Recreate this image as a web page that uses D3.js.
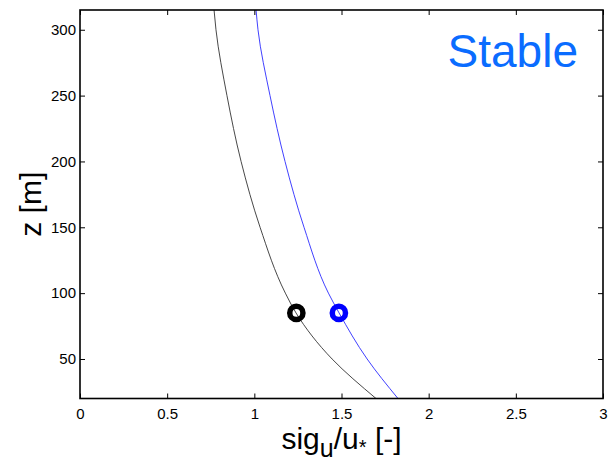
<!DOCTYPE html>
<html><head><meta charset="utf-8">
<script src="https://cdn.jsdelivr.net/npm/d3@7"></script>
<style>body{margin:0;background:#fff;} svg{display:block;font-family:"Liberation Sans",Arial,sans-serif;}</style>
</head><body>
<script>
const zLevels   = [20, 50, 85, 100, 150, 200, 250, 300, 315];
const blackVals = [1.698, 1.446, 1.239, 1.178, 1.033, 0.924, 0.843, 0.780, 0.769];
const blueVals  = [1.824, 1.647, 1.486, 1.425, 1.285, 1.176, 1.090, 1.021, 1.010];
const markerZ = [85, 85];
const markerX = [1.241, 1.485];
const markerColors = ["#000000", "#0000ff"];
const xTicks = [0, 0.5, 1, 1.5, 2, 2.5, 3];
const yTicks = [50, 100, 150, 200, 250, 300];

const W = 609, H = 466;
const m = {l: 80, r: 6, t: 10, b: 67.5};
const svg = d3.select("body").append("svg").attr("width", W).attr("height", H);
const x = d3.scaleLinear().domain([0, 3]).range([m.l, W - m.r]);
const y = d3.scaleLinear().domain([20, 315]).range([H - m.b, m.t]);

svg.append("defs").append("clipPath").attr("id","clip").append("rect")
  .attr("x", m.l).attr("y", m.t).attr("width", W-m.l-m.r).attr("height", H-m.t-m.b);

const line = (vals) => d3.line().x((d,i)=>x(vals[i])).y(d=>y(d)).curve(d3.curveMonotoneY)(zLevels);
const g = svg.append("g").attr("clip-path","url(#clip)");
g.append("path").attr("d", line(blackVals)).attr("fill","none").attr("stroke","#333").attr("stroke-width",0.9);
g.append("path").attr("d", line(blueVals)).attr("fill","none").attr("stroke","#2b2bff").attr("stroke-width",0.9);

markerX.forEach((v,i)=>{
  svg.append("circle").attr("cx", x(v)).attr("cy", y(markerZ[i])).attr("r", 6.6)
    .attr("fill","none").attr("stroke", markerColors[i]).attr("stroke-width", 5.5);
});

// axes: inward ticks on all four sides
const tl = 5;
const axB = svg.append("g").attr("transform",`translate(0,${H-m.b})`)
  .call(d3.axisBottom(x).tickValues(xTicks).tickSizeInner(-tl).tickSizeOuter(0).tickPadding(10).tickFormat(d3.format("")));
const axT = svg.append("g").attr("transform",`translate(0,${m.t})`)
  .call(d3.axisTop(x).tickValues(xTicks).tickSizeInner(-tl).tickSizeOuter(0).tickFormat(""));
const axL = svg.append("g").attr("transform",`translate(${m.l},0)`)
  .call(d3.axisLeft(y).tickValues(yTicks).tickSizeInner(-tl).tickSizeOuter(0).tickPadding(4));
const axR = svg.append("g").attr("transform",`translate(${W-m.r},0)`)
  .call(d3.axisRight(y).tickValues(yTicks).tickSizeInner(-tl).tickSizeOuter(0).tickFormat(""));
[axB,axT,axL,axR].forEach(a=>{
  a.select(".domain").remove();
  a.selectAll("line").attr("stroke","#000").attr("stroke-width",1);
  a.selectAll("text").attr("font-family","Liberation Sans, Arial, sans-serif").attr("font-size",15).attr("fill","#000");
});
svg.append("rect").attr("x", m.l).attr("y", m.t).attr("width", W-m.l-m.r).attr("height", H-m.t-m.b)
  .attr("fill","none").attr("stroke","#000").attr("stroke-width",1.6);

// labels
svg.append("text").attr("transform",`translate(41,${(m.t + H - m.b)/2}) rotate(-90)`)
  .attr("text-anchor","middle").attr("font-size",30).attr("fill","#000").text("z [m]");
const xl = svg.append("text").attr("x", (m.l + W - m.r)/2).attr("y", 449)
  .attr("text-anchor","middle").attr("font-size",30).attr("fill","#000");
xl.append("tspan").text("sig");
xl.append("tspan").attr("dy", 8).attr("font-size", 25).text("u");
xl.append("tspan").attr("dy", -8).text("/u");
xl.append("tspan").attr("dy", 5).attr("font-size", 20).text("*");
xl.append("tspan").attr("dy", -5).text(" [-]");

svg.append("text").attr("x", 578).attr("y", 67).attr("text-anchor","end")
  .attr("font-size", 46).attr("fill","#0a6cff").text("Stable");
</script>
</body></html>
